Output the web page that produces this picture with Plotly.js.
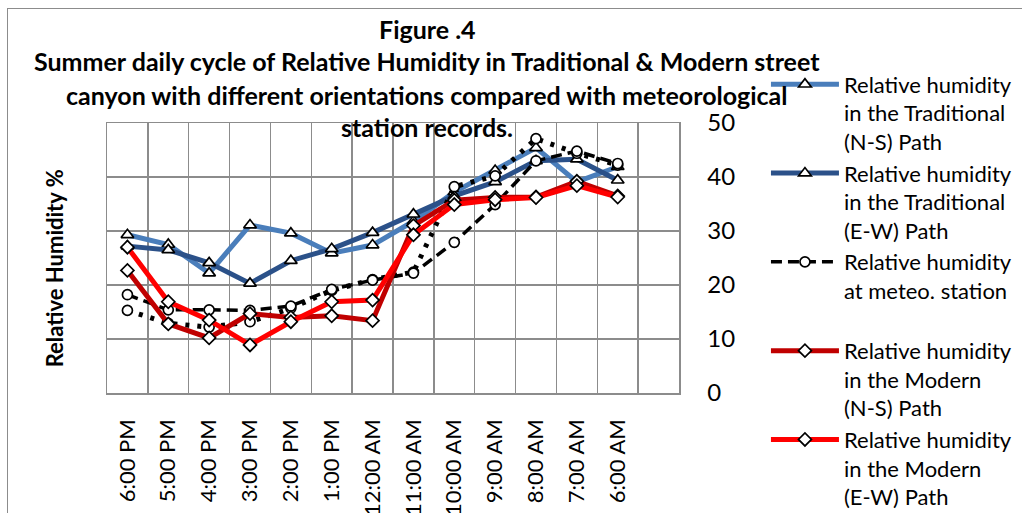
<!DOCTYPE html>
<html>
<head>
<meta charset="utf-8">
<script src="https://cdn.plot.ly/plotly-3.0.1.min.js"></script>
<style>
  html, body { margin: 0; padding: 0; background: #fff; overflow: hidden; }
  #wrap { position: relative; width: 1022px; height: 513px; overflow: hidden; }
  #chart { position: absolute; left: 0; top: 0; width: 1060px; height: 540px; }
  #frame { position: absolute; left: 7px; top: 8px; width: 1015px; height: 505px;
           border-left: 1.5px solid #8c8c8c; border-top: 1.5px solid #8c8c8c;
           pointer-events: none; box-sizing: border-box; }
</style>
</head>
<body>
<div id="wrap"><div id="chart"></div><div id="frame"></div></div>
<script>
// ---- Data ----
const categories = ['6:00 PM','5:00 PM','4:00 PM','3:00 PM','2:00 PM','1:00 PM','12:00 AM',
                    '11:00 AM','10:00 AM','9:00 AM','8:00 AM','7:00 AM','6:00 AM'];
const tradNS  = [29.3, 27.5, 22.2, 31.1, 29.6, 25.9, 27.4, 31.8, 37.2, 41.2, 45.4, 39.1, 41.9];
const tradEW  = [27.2, 26.5, 24.1, 20.3, 24.5, 26.7, 29.7, 33.1, 36.5, 39.1, 43.0, 43.3, 39.4];
const meteo   = [18.2, 15.4, 15.4, 15.3, 16.1, 19.2, 20.9, 22.2, 27.9, 34.9, 43.0, 44.8, 42.5];
const meteo2  = [15.3, 12.9, 12.2, 13.2, 15.7, 19.0, 21.0, 22.4, 38.2, 40.2, 47.1, 44.4, 42.2];
const modNS   = [22.7, 12.8, 10.2, 14.7, 14.0, 14.3, 13.4, 31.0, 35.7, 36.2, 36.3, 39.2, 36.5];
const modEW   = [27.0, 16.9, 13.5,  8.9, 13.2, 16.9, 17.2, 29.3, 34.9, 35.8, 36.2, 38.4, 36.3];
const yTicks  = [0, 10, 20, 30, 40, 50];

const names = {
  tradNS: 'Relative humidity<br>in the Traditional<br>(N-S) Path',
  tradEW: 'Relative humidity<br>in the Traditional<br>(E-W) Path',
  meteo:  'Relative humidity<br>at meteo. station<br> ',
  modNS:  'Relative humidity<br>in the Modern<br>(N-S) Path',
  modEW:  'Relative humidity<br>in the Modern<br>(E-W) Path'
};

const xIdx = categories.map((c, i) => i);
const boundaries = Array.from({length: categories.length + 2}, (_, i) => i - 0.5);
const FONT = 'Lato, "Open Sans", sans-serif';
const mk = (sym, size) => ({symbol: sym, size: size, color: '#ffffff', line: {color: '#000000', width: 1.7}});

const traces = [
  {x: xIdx, y: tradNS, name: names.tradNS, legendgroup: 'a', mode: 'lines+markers',
   line: {color: '#4a7ebb', width: 5}, marker: mk('triangle-up', 11)},
  {x: xIdx, y: tradEW, name: names.tradEW, legendgroup: 'b', mode: 'lines+markers',
   line: {color: '#2b5189', width: 5}, marker: mk('triangle-up', 11)},
  {x: xIdx, y: meteo2, name: 'meteo2', showlegend: false, mode: 'lines+markers',
   line: {color: '#000000', width: 5, dash: '4px,8px'}, marker: mk('circle', 10)},
  {x: xIdx, y: meteo, name: names.meteo, legendgroup: 'c', mode: 'lines+markers',
   line: {color: '#000000', width: 3.5, dash: '11px,6px'}, marker: mk('circle', 10)},
  {x: xIdx, y: modNS, name: names.modNS, legendgroup: 'd', mode: 'lines+markers',
   line: {color: '#c00000', width: 5}, marker: mk('diamond', 10)},
  {x: xIdx, y: modEW, name: names.modEW, legendgroup: 'e', mode: 'lines+markers',
   line: {color: '#ff0000', width: 5}, marker: mk('diamond', 10)}
];

// figure canvas (larger than the 1022x513 window, which crops it like the reference)
const W = 1060, H = 540;
// plot area in pixels: left 106.7, right 679, top 122.7, bottom 393.3
const L = 106.7, R = 679, T = 122.7, B = 393.3;
const px = X => (X - L) / (R - L);
const py = Y => (B - Y) / (B - T);

const titleFont = {family: FONT, size: 25, color: '#000000'};
const titleLines = [
  ['<b>Figure .4</b>', 28],
  ['<b>Summer daily cycle of Relative Humidity in Traditional &amp; Modern street</b>', 61],
  ['<b>canyon with different orientations compared with meteorological</b>', 95],
  ['<b>station records.</b>', 127]
];

const annotations = titleLines.map(([t, y]) => ({
  text: t, xref: 'paper', yref: 'paper', x: px(427), y: py(y),
  xanchor: 'center', yanchor: 'middle', showarrow: false, font: titleFont
}));
annotations.push({
  text: '<b>Relative Humidity %</b>', xref: 'paper', yref: 'paper',
  x: px(55), y: py(268), xanchor: 'center', yanchor: 'middle', textangle: -90,
  showarrow: false, font: {family: FONT, size: 22, color: '#000000'}
});

const layout = {
  width: W, height: H,
  margin: {l: L, r: W - R, t: T, b: H - B, pad: 0},
  paper_bgcolor: '#ffffff', plot_bgcolor: '#ffffff',
  font: {family: FONT, color: '#000000'},
  showlegend: true,
  legend: {
    x: px(766), y: py(63), xanchor: 'left', yanchor: 'top',
    xref: 'paper', yref: 'paper', maxheight: 520,
    font: {family: FONT, size: 22, color: '#000000'},
    valign: 'top', traceorder: 'grouped', tracegroupgap: 0, itemwidth: 68,
    bgcolor: 'rgba(0,0,0,0)', borderwidth: 0
  },
  xaxis: {
    type: 'linear', range: [-0.5, categories.length + 0.5],
    tickmode: 'array', tickvals: xIdx, ticktext: categories, tickangle: -90,
    tickfont: {family: FONT, size: 22, color: '#000000'},
    ticks: 'outside', ticklen: 16, tickcolor: 'rgba(0,0,0,0)',
    showgrid: false, zeroline: false,
    showline: true, mirror: true, linecolor: '#8c8c8c', linewidth: 1.5,
    minor: {tickmode: 'array', tickvals: boundaries, showgrid: true,
            gridcolor: '#8c8c8c', gridwidth: 1.5, ticks: ''}
  },
  yaxis: {
    side: 'right', range: [0, 50], tickmode: 'array', tickvals: yTicks,
    tickfont: {family: FONT, size: 24, color: '#000000'},
    ticks: '', ticklabelstandoff: 22,
    showgrid: true, gridcolor: '#8c8c8c', gridwidth: 1.5, zeroline: false,
    showline: true, mirror: true, linecolor: '#8c8c8c', linewidth: 1.5
  },
  annotations: annotations
};

Plotly.newPlot('chart', traces, layout, {displayModeBar: false, staticPlot: true});
</script>
</body>
</html>
